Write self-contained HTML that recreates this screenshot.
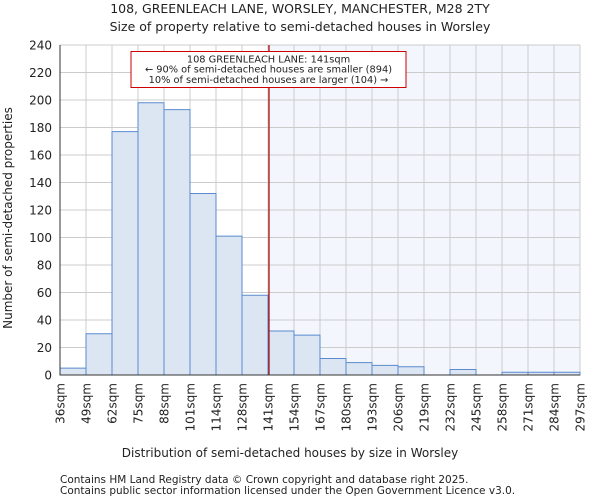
<!DOCTYPE html>
<html><head><meta charset="utf-8"><style>
body{margin:0;background:#fff;font-family:"DejaVu Sans","Liberation Sans",sans-serif;}
svg text{font-family:"DejaVu Sans","Liberation Sans",sans-serif;fill:#222;}
</style></head><body>
<svg id="chart" width="600" height="500" xmlns="http://www.w3.org/2000/svg">
<text x="300" y="13" text-anchor="middle" font-size="12.5">108, GREENLEACH LANE, WORSLEY, MANCHESTER, M28 2TY</text>
<text x="300" y="31" text-anchor="middle" font-size="12.5">Size of property relative to semi-detached houses in Worsley</text>
<g id="grid"></g>
<g id="bars"></g>
<g id="axes"></g>
<text x="290" y="457" text-anchor="middle" font-size="12">Distribution of semi-detached houses by size in Worsley</text>
<text transform="translate(12,218) rotate(-90)" text-anchor="middle" font-size="12">Number of semi-detached properties</text>
<text x="60" y="483" font-size="10.5">Contains HM Land Registry data © Crown copyright and database right 2025.</text>
<text x="60" y="494" font-size="10.5">Contains public sector information licensed under the Open Government Licence v3.0.</text>
</svg>
<script>
const categories=["36sqm","49sqm","62sqm","75sqm","88sqm","101sqm","114sqm","128sqm","141sqm","154sqm","167sqm","180sqm","193sqm","206sqm","219sqm","232sqm","245sqm","258sqm","271sqm","284sqm","297sqm"];
const counts=[5,30,177,198,193,132,101,58,32,29,12,9,7,6,0,4,0,2,2,2];
const yTicks=[0,20,40,60,80,100,120,140,160,180,200,220,240];
const subjectIndex=8;
const NS="http://www.w3.org/2000/svg";
const L=60,R=580,T=45,B=375,yMax=240;
const bw=(R-L)/counts.length;
const x=i=>L+i*bw;
const y=v=>B-(v/yMax)*(B-T);
function mk(tag,attrs,parent){const e=document.createElementNS(NS,tag);for(const k in attrs)e.setAttribute(k,attrs[k]);parent.appendChild(e);return e;}
const grid=document.getElementById('grid'),bars=document.getElementById('bars'),axes=document.getElementById('axes');
const sx=x(subjectIndex)+1;
const shade=mk('rect',{x:sx,y:T,width:R-sx,height:B-T,fill:'#f3f6fd'},grid);


yTicks.forEach(v=>{
 const g=mk('line',{x1:L,x2:R,y1:y(v),y2:y(v),stroke:'#cccccc','stroke-width':1},grid);
 
 
 const t=mk('text',{x:L-8,y:y(v)+4.5,'text-anchor':'end','font-size':12},axes);
 t.textContent=v;
 
 
});
categories.forEach((c,i)=>{
 const g=mk('line',{x1:x(i),x2:x(i),y1:T,y2:B,stroke:'#cccccc','stroke-width':1},grid);
 
 
 const t=mk('text',{transform:`translate(${x(i)+4.5},${B+8}) rotate(-90)`,'text-anchor':'end','font-size':12},axes);
 t.textContent=c;
 
 
});
counts.forEach((v,i)=>{
 if(v<=0)return;
 const r=mk('rect',{x:x(i),y:y(v),width:bw,height:B-y(v),fill:'#dce6f3',stroke:'#5a8ad0','stroke-width':1},bars);
 
 
});
const ln=mk('line',{x1:sx,x2:sx,y1:T,y2:B,stroke:'#aa0000','stroke-width':1.2},bars);


const box=mk('rect',{x:131,y:51.5,width:275,height:36,fill:'#fff',stroke:'#cc0000','stroke-width':1},bars);


["108 GREENLEACH LANE: 141sqm","← 90% of semi-detached houses are smaller (894)","10% of semi-detached houses are larger (104) →"].forEach((s,k)=>{
 const t=mk('text',{x:268.5,y:62.5+k*10.2,'text-anchor':'middle','font-size':9.8},bars);
 t.textContent=s;
 
 
});
const ax=mk('path',{d:`M${L},${T}V${B}H${R}`,fill:'none',stroke:'#333','stroke-width':1},axes);


</script>
</body></html>
